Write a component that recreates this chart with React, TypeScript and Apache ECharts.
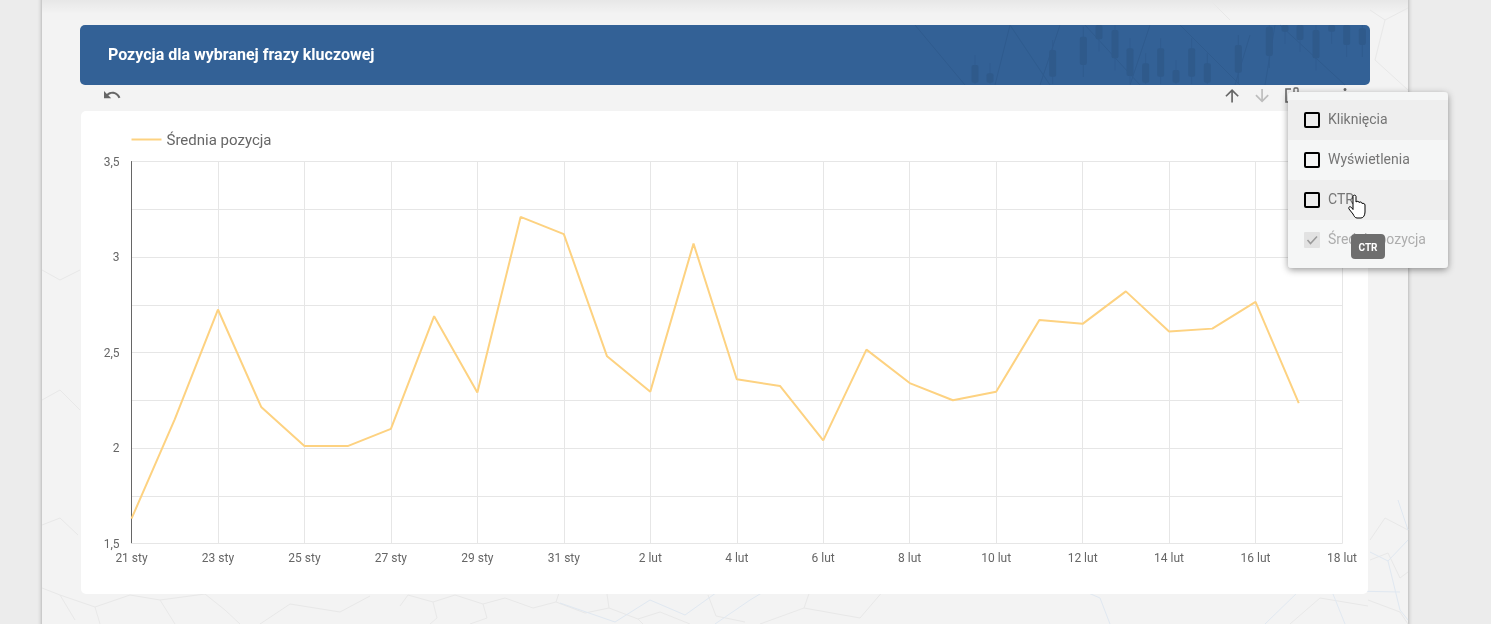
import React, { useEffect, useRef } from "react";
import * as echarts from "echarts";

// ---- chart data ----
const categories = [
  "21 sty", "22 sty", "23 sty", "24 sty", "25 sty", "26 sty", "27 sty", "28 sty", "29 sty", "30 sty", "31 sty",
  "1 lut", "2 lut", "3 lut", "4 lut", "5 lut", "6 lut", "7 lut", "8 lut", "9 lut", "10 lut", "11 lut", "12 lut",
  "13 lut", "14 lut", "15 lut", "16 lut", "17 lut", "18 lut",
];
const seriesName = "Średnia pozycja";
const averagePosition = [
  1.63, 2.15, 2.725, 2.215, 2.01, 2.01, 2.1, 2.69, 2.29, 3.21, 3.12, 2.48, 2.295, 3.07, 2.36, 2.325, 2.04, 2.515, 2.34,
  2.25, 2.295, 2.67, 2.65, 2.82, 2.61, 2.625, 2.765, 2.235,
];
const title = "Pozycja dla wybranej frazy kluczowej";
const menuItems = ["Kliknięcia", "Wyświetlenia", "CTR", "Średnia pozycja"];

// ---- decoration (page chrome, not data) ----
const candles = [
  [225, 135, 188], [270, 160, 188], [458, 90, 170], [550, 50, 135], [597, 15, 58], [645, 30, 115], [690, 85, 168],
  [737, 130, 188], [782, 85, 170], [828, 150, 188], [875, 85, 170], [922, 130, 188], [1015, 75, 158], [1108, 20, 108],
  [1155, 15, 35], [1200, 15, 60], [1248, 30, 115], [1295, 15, 35], [1340, 15, 75], [1387, 25, 75],
];
const headerLines: number[][][] = [
  [[915, 25], [965, 85]],
  [[995, 85], [1010, 25]],
  [[1010, 25], [1050, 85]],
  [[1040, 85], [1060, 25]],
  [[1085, 25], [1140, 85]],
  [[1130, 85], [1150, 25]],
  [[1180, 25], [1240, 85]],
  [[1235, 85], [1250, 35]],
  [[1265, 85], [1275, 25]],
  [[1280, 25], [1345, 85]],
];
const grayHex: number[][][] = [
  [[400, 606], [408, 595], [433, 602], [455, 595], [483, 604], [505, 598], [533, 608], [556, 602], [585, 613], [609, 608], [638, 619], [660, 612], [690, 624]],
  [[433, 602], [437, 618], [430, 624]],
  [[483, 604], [487, 618], [470, 624]],
  [[556, 602], [560, 590], [556, 585]],
  [[609, 608], [607, 594], [605, 585]],
  [[638, 619], [643, 624]],
  [[708, 595], [716, 616], [745, 622]],
  [[760, 624], [804, 608], [812, 585]],
  [[804, 608], [860, 618], [884, 590], [900, 585]],
  [[42, 525], [60, 518], [78, 535]],
  [[42, 588], [60, 595], [75, 620]],
  [[60, 595], [95, 607], [130, 595], [160, 600], [175, 624]],
  [[95, 607], [100, 624]],
  [[160, 600], [205, 594], [225, 610], [240, 624]],
  [[205, 594], [210, 585]],
  [[260, 624], [290, 604], [340, 612], [370, 596]],
  [[1370, 540], [1385, 518], [1408, 530]],
  [[1370, 560], [1388, 553], [1400, 578], [1408, 572]],
  [[1368, 600], [1400, 612], [1408, 624]],
  [[1290, 624], [1320, 598], [1368, 606]],
  [[1370, 10], [1385, 20], [1408, 8]],
  [[1385, 20], [1375, 60], [1408, 90]],
  [[1210, 0], [1230, 20]],
  [[42, 270], [60, 280], [80, 270]],
  [[42, 400], [60, 390], [80, 410]],
];
const blueHex: number[][][] = [
  [[1370, 552], [1388, 561], [1408, 540]],
  [[1388, 561], [1400, 610], [1408, 620]],
  [[1333, 594], [1345, 624]],
  [[1398, 500], [1408, 530]],
  [[560, 603], [615, 622], [650, 600], [685, 615], [720, 590]],
  [[715, 624], [750, 600], [775, 585]],
  [[1070, 585], [1100, 598], [1110, 624]],
  [[1265, 624], [1300, 590], [1400, 592]],
];

echarts.graphic.registerShape("undoIcon", echarts.graphic.extendPath("M12.5 8c-2.65 0-5.05.99-6.9 2.6L2 7v9h9l-3.62-3.62c1.39-1.16 3.16-1.88 5.12-1.88 3.54 0 6.55 2.31 7.6 5.5l2.37-.78C21.08 11.03 17.15 8 12.5 8z", {}));
echarts.graphic.registerShape("upIcon", echarts.graphic.extendPath("M4 12l1.41 1.41L11 7.83V20h2V7.83l5.58 5.59L20 12l-8-8-8 8z", {}));
echarts.graphic.registerShape("downIcon", echarts.graphic.extendPath("M20 12l-1.41-1.41L13 16.17V4h-2v12.17l-5.58-5.59L4 12l8 8 8-8z", {}));
echarts.graphic.registerShape("handIcon", echarts.graphic.extendPath("M5 1.5C5-.3 8-.3 8 1.5V7C9 6 11 6 11 7.5 12 6.6 14 6.8 14 8.5 15 8 17 8.5 17 10V17C17 20 15.5 23 13 23H9C7 23 6 21 5 19L1 14C0 12 2 11 3.5 12.5L5 14.5Z", {}));

const FONT = "Roboto";

function layered(els: any[], z: number) {
  return els.map((el, i) => ({ ...el, z, z2: i, silent: true }));
}

function backgroundGraphics() {
  const els: any[] = [
    { type: "rect", shape: { x: 0, y: 0, width: 1491, height: 624 }, style: { fill: "#ececec" } },
    {
      type: "rect",
      shape: { x: 42, y: -10, width: 1366, height: 650 },
      style: { fill: "#f3f3f3", shadowBlur: 4, shadowColor: "rgba(0,0,0,0.35)" },
    },
    {
      type: "rect",
      shape: { x: 42, y: 0, width: 1366, height: 14 },
      style: {
        fill: new echarts.graphic.LinearGradient(0, 0, 0, 1, [
          { offset: 0, color: "rgba(0,0,0,0.05)" },
          { offset: 1, color: "rgba(0,0,0,0)" },
        ]),
      },
    },
  ];
  grayHex.forEach((points) =>
    els.push({ type: "polyline", shape: { points }, style: { stroke: "#e8e8e8", lineWidth: 1, fill: "none" } }),
  );
  blueHex.forEach((points) =>
    els.push({ type: "polyline", shape: { points }, style: { stroke: "#e0e8f1", lineWidth: 1, fill: "none" } }),
  );
  els.push({
    type: "rect",
    shape: { x: 80, y: 25, width: 1290, height: 60, r: 5 },
    style: { fill: "#336196" },
  });
  headerLines.forEach((points) =>
    els.push({ type: "polyline", shape: { points }, style: { stroke: "#2f5b8e", lineWidth: 1, fill: "none" } }),
  );
  candles.forEach(([zx, top, bottom]) => {
    const cx = 900 + zx / 3;
    const y1 = 20 + top / 3;
    const y2 = 20 + bottom / 3;
    els.push({
      type: "rect",
      shape: { x: cx - 0.5, y: Math.max(25, y1 - 10), width: 1, height: Math.min(84, y2 + 12) - Math.max(25, y1 - 10) },
      style: { fill: "#305c8f" },
    });
    els.push({
      type: "rect",
      shape: { x: cx - 3.5, y: y1, width: 7, height: y2 - y1, r: 2 },
      style: { fill: "#2f5a8b" },
    });
  });
  els.push({
    type: "text",
    x: 108,
    y: 54,
    style: { text: title, font: `700 16px ${FONT}`, fill: "#ffffff", textAlign: "left", textVerticalAlign: "middle" },
  });
  els.push({ type: "undoIcon", x: 102.4, y: 85.4, scaleX: 0.8, scaleY: 0.8, style: { fill: "#666666" } });
  els.push({ type: "upIcon", x: 1222, y: 85.6, scaleX: 0.84, scaleY: 0.84, style: { fill: "#666666" } });
  els.push({ type: "downIcon", x: 1252, y: 85.6, scaleX: 0.84, scaleY: 0.84, style: { fill: "#bdbdbd" } });
  els.push({
    type: "polyline",
    shape: { points: [[1291, 89], [1286, 89], [1286, 102], [1291, 102]] },
    style: { stroke: "#666666", lineWidth: 1.6, fill: "none" },
  });
  els.push({
    type: "rect",
    shape: { x: 1294, y: 88, width: 4, height: 5, r: 1 },
    style: { stroke: "#666666", lineWidth: 1.3, fill: "none" },
  });
  els.push({ type: "circle", shape: { cx: 1345, cy: 89.5, r: 1.5 }, style: { fill: "#666666" } });
  els.push({
    type: "rect",
    shape: { x: 81, y: 111, width: 1287, height: 483, r: 5 },
    style: { fill: "#ffffff" },
  });
  return els;
}

function menuGraphics() {
  const rowFill = ["#eeeeee", "#f5f6f6", "#eeeeee", "#f5f6f6"];
  const els: any[] = [
    {
      type: "rect",
      shape: { x: 1288, y: 92, width: 160, height: 176, r: 4 },
      style: { fill: "#f5f6f6", shadowBlur: 7, shadowOffsetY: 2, shadowColor: "rgba(0,0,0,0.4)" },
    },
  ];
  menuItems.forEach((label, i) => {
    const top = 100 + i * 40;
    const disabled = i === 3;
    els.push({ type: "rect", shape: { x: 1288, y: top, width: 160, height: 40 }, style: { fill: rowFill[i] } });
    els.push(
      disabled
        ? { type: "rect", shape: { x: 1304, y: top + 12, width: 16, height: 16, r: 1 }, style: { fill: "#e2e2e2" } }
        : {
            type: "rect",
            shape: { x: 1305, y: top + 13, width: 14, height: 14, r: 1 },
            style: { fill: "none", stroke: "#000000", lineWidth: 2 },
          },
    );
    if (disabled) {
      els.push({
        type: "polyline",
        shape: { points: [[1307.5, top + 20], [1310.5, top + 23.5], [1317, top + 16.5]] },
        style: { stroke: "#9a9a9a", lineWidth: 1.5, fill: "none" },
      });
    }
    els.push({
      type: "text",
      x: 1328,
      y: top + 18.5,
      style: {
        text: label,
        font: `400 14px ${FONT}`,
        fill: disabled ? "#adadad" : "#757575",
        textAlign: "left",
        textVerticalAlign: "middle",
      },
    });
  });
  els.push({
    type: "rect",
    shape: { x: 1351, y: 234, width: 34, height: 25, r: 4 },
    style: { fill: "#6e6e6e" },
  });
  els.push({
    type: "text",
    x: 1368,
    y: 247,
    style: { text: "CTR", font: `700 10px ${FONT}`, fill: "#ffffff", textAlign: "center", textVerticalAlign: "middle" },
  });
  els.push({
    type: "handIcon",
    x: 1348,
    y: 195,
    style: { fill: "#ffffff", stroke: "#000000", lineWidth: 1 },
  });
  return els;
}

export default function App() {
  const ref = useRef<HTMLDivElement>(null);
  useEffect(() => {
    document.body.style.margin = "0";
    const chart = echarts.init(ref.current!, null, { renderer: "svg" });
    chart.setOption({
      animation: false,
      textStyle: { fontFamily: FONT },
      graphic: [
        ...layered(backgroundGraphics(), -10),
        ...layered(menuGraphics(), 100),
      ],
      legend: {
        show: true,
        left: 126.5,
        top: 127,
        itemWidth: 30,
        itemHeight: 14,
        textStyle: { color: "#666666", fontSize: 15, fontFamily: FONT },
        data: [{ name: seriesName, icon: "path://M0 6H30V8H0Z" }],
      },
      grid: { left: 131.5, right: 149, top: 161.5, bottom: 80.5, containLabel: false },
      xAxis: {
        type: "category",
        boundaryGap: false,
        data: categories,
        axisLine: { show: true, lineStyle: { color: "#e6e6e6", width: 1 } },
        axisTick: { show: false },
        axisLabel: { interval: 1, color: "#666666", fontSize: 12, margin: 8, fontFamily: FONT, showMaxLabel: true },
        splitLine: { show: true, interval: 1, lineStyle: { color: "#e6e6e6", width: 1 } },
      },
      yAxis: {
        type: "value",
        min: 1.5,
        max: 3.5,
        interval: 0.5,
        axisLine: { show: true, lineStyle: { color: "#666666", width: 1 } },
        axisTick: { show: false },
        axisLabel: {
          color: "#666666",
          fontSize: 12,
          margin: 12,
          fontFamily: FONT,
          formatter: (v: number) => String(v).replace(".", ","),
        },
        splitLine: { show: true, lineStyle: { color: "#e6e6e6", width: 1 } },
        minorTick: { show: false, splitNumber: 2 },
        minorSplitLine: { show: true, lineStyle: { color: "#e6e6e6", width: 1 } },
      },
      series: [
        {
          name: seriesName,
          type: "line",
          data: averagePosition,
          showSymbol: false,
          smooth: false,
          lineStyle: { color: "#fdd281", width: 2 },
          itemStyle: { color: "#fdd281" },
        },
      ],
    });
    return () => chart.dispose();
  }, []);
  return <div ref={ref} style={{ position: "fixed", left: 0, top: 0, width: 1491, height: 624 }} />;
}
